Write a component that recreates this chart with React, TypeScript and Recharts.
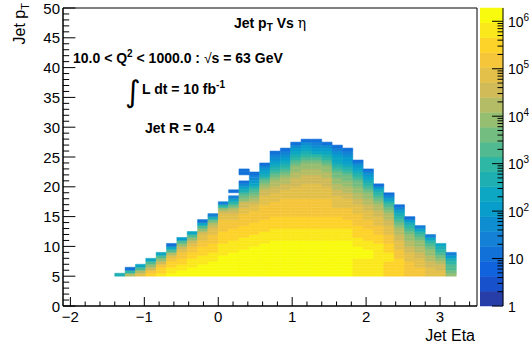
import React from "react";
import { ReferenceArea, Scatter, ScatterChart, XAxis, YAxis } from "recharts";

// binning of the jet histogram
const etaStart = -1.4;
const etaStep = 0.14;
const ptStart = 5;
const ptStep = 0.5;

// colour level of every cell, one string per eta bin, read from pT = 5 upwards
// 0-9 and a-j stand for the 20 levels of the palette, "." is an empty bin
const levelColumns = [
  "8",
  "d93",
  "fda7",
  "hgeca7",
  "ihhgeca7",
  "jiihhgfda73",
  "jjiihhggfeca6",
  "jjjiiihhggfeca7",
  "jjjjiiihhhggffeca73",
  "jjjjjiiihhhgggffedb84",
  "jjjjjjjiiiihhhhggggffec94",
  "jjjjjjjjiiiihhhhgggffedb974.3",
  "jjjjjjjjjiiiihhhhggggffeecba8753..33",
  "jjjjjjjjjjiiiihhhhggggffedcba976543",
  "jjjjjjjjjjjiiiihhhhgggggfffeedcba87653",
  "jjjjjjjjjjjjiiiihhhhgggggfffeeddcba9876543",
  "jjjjjjjjjjjjiiiihhhhggggggfffeeddcba9876543",
  "jjjjjjjjjjjjiiiihhhhggggggffffeeeddccba987653",
  "jjjjjjjjjjjjiiiihhhhggggggfffffeeeddccba987653",
  "jjjjjjjjjjjjiiiihhhhggggggfffffeeeddccba976543",
  "jjjjjjjjjjjjiiiihhhhggggggffffeeeddccba987653",
  "jjjjjjjjjjjjiiiihhhhgggffffeeddccbba98776543",
  "jjjjjjjjjjjjiiiihhhggggfffeeddccbba98766543",
  "iiiiiijjjjiiihhhhggggfffeeddccbba987653",
  "iiiiiijjjiiihhhhgggfffeeddccba987653",
  "iiiiiiiiiiihhhgggfffeeddcba9863",
  "hhhhhiiihhhgggfffeeddcba9753",
  "hhhhhhgggfffeeddcba98753",
  "gggggfffeeddccba9863",
  "gggfffeeddccba974",
  "fffeeddccba974",
  "ffeedcba987",
  "cbaa9864",
];

const xMajor = [-2, -1, 0, 1, 2, 3];
const xMajorLabels = ["\u22122", "\u22121", "0", "1", "2", "3"];
const yMajor = [0, 5, 10, 15, 20, 25, 30, 35, 40, 45, 50];
const zDecades = [0, 1, 2, 3, 4, 5, 6];

const xDomain = [-2.1, 3.5];
const yDomain = [0, 50];
const zLogMax = 6.28;
const nLevels = 20;

// ROOT kBird palette
const birdStops = [0, 0.125, 0.25, 0.375, 0.5, 0.625, 0.75, 0.875, 1];
const birdRed = [0.2082, 0.0592, 0.078, 0.0232, 0.1802, 0.5301, 0.8186, 0.9956, 0.9764];
const birdGreen = [0.1664, 0.3599, 0.5041, 0.6419, 0.7178, 0.7492, 0.7328, 0.7862, 0.9832];
const birdBlue = [0.5293, 0.8684, 0.8385, 0.7914, 0.6425, 0.4662, 0.3499, 0.1968, 0.0539];

function birdColor(f: number) {
  let k = 0;
  while (k < birdStops.length - 2 && f > birdStops[k + 1]) k++;
  const t = (f - birdStops[k]) / (birdStops[k + 1] - birdStops[k]);
  const ch = (a: number[]) => Math.round(255 * (a[k] + (a[k + 1] - a[k]) * t));
  return `rgb(${ch(birdRed)},${ch(birdGreen)},${ch(birdBlue)})`;
}

const levelColor = (i: number) => birdColor(Math.floor(((i + 0.99) * 255) / nLevels) / 254);

const cells: { x1: number; x2: number; y1: number; y2: number; level: number }[] = [];
levelColumns.forEach((col, c) => {
  col.split("").forEach((ch, r) => {
    if (ch === ".") return;
    cells.push({
      x1: etaStart + c * etaStep,
      x2: etaStart + (c + 1) * etaStep,
      y1: ptStart + r * ptStep,
      y2: ptStart + (r + 1) * ptStep,
      level: parseInt(ch, 36),
    });
  });
});

const xTicks: number[] = [];
for (let k = -10; k <= 17; k++) xTicks.push(Math.round(k * 2) / 10);
const yTicks: number[] = [];
for (let k = 0; k <= 50; k++) yTicks.push(k);
const zTicks: number[] = [];
zDecades.forEach((d) => {
  for (let m = 1; m <= 9; m++) {
    const v = d + Math.log10(m);
    if (v <= zLogMax) zTicks.push(v);
  }
});

const font = "'Liberation Sans', Arial, sans-serif";
const isMajor = (list: number[], v: number) => list.findIndex((m) => Math.abs(m - v) < 1e-6);

const XTick = (props: any) => {
  const { x, y, payload } = props;
  const idx = isMajor(xMajor, payload.value);
  return (
    <g>
      <line x1={x} x2={x} y1={y} y2={y - (idx >= 0 ? 9 : 4.5)} stroke="#000" />
      {idx >= 0 && (
        <text x={x} y={y + 16} textAnchor="middle" fontSize={15} fontFamily={font} fill="#000">
          {xMajorLabels[idx]}
        </text>
      )}
    </g>
  );
};

const YTick = (props: any) => {
  const { x, y, payload } = props;
  const idx = isMajor(yMajor, payload.value);
  return (
    <g>
      <line x1={x} x2={x + (idx >= 0 ? 12.4 : 6.2)} y1={y} y2={y} stroke="#000" />
      {idx >= 0 && (
        <text x={x - 3} y={y + 5.5} textAnchor="end" fontSize={15} fontFamily={font} fill="#000">
          {String(yMajor[idx])}
        </text>
      )}
    </g>
  );
};

const ZTick = (props: any) => {
  const { x, y, payload } = props;
  const idx = isMajor(zDecades, payload.value);
  const d = idx >= 0 ? zDecades[idx] : -1;
  return (
    <g>
      <line x1={x} x2={x - (idx >= 0 ? 11 : 5.5)} y1={y} y2={y} stroke="#000" />
      {d >= 0 && (
        <text x={x + 5} y={y + 5.5} fontSize={14} fontFamily={font} fill="#000">
          {d === 0 ? "1" : "10"}
          {d >= 2 && (
            <tspan dy={-6} fontSize={10}>
              {String(d)}
            </tspan>
          )}
        </text>
      )}
    </g>
  );
};

const noShape = () => <g />;

export default function App() {
  return (
    <div style={{ position: "absolute", left: 0, top: 0, width: 529, height: 345, background: "#fff", fontFamily: font }}>
      <div style={{ position: "absolute", left: 0, top: 0 }}>
        <ScatterChart width={529} height={345} margin={{ top: 8, right: 52, bottom: 0, left: 0 }}>
          <XAxis
            type="number"
            dataKey="x"
            domain={xDomain}
            allowDataOverflow
            ticks={xTicks}
            interval={0}
            height={39}
            tickSize={0}
            tickMargin={0}
            tickLine={false}
            axisLine={{ stroke: "#000" }}
            tick={XTick}
          />
          <YAxis
            type="number"
            dataKey="y"
            domain={yDomain}
            allowDataOverflow
            ticks={yTicks}
            interval={0}
            width={63}
            tickSize={0}
            tickMargin={0}
            tickLine={false}
            axisLine={{ stroke: "#000" }}
            tick={YTick}
          />
          {cells.map((c, i) => (
            <ReferenceArea
              key={i}
              x1={c.x1}
              x2={c.x2}
              y1={c.y1}
              y2={c.y2}
              fill={levelColor(c.level)}
              fillOpacity={1}
              stroke={levelColor(c.level)}
              strokeWidth={0.5}
              ifOverflow="visible"
            />
          ))}
          <ReferenceArea x1={xDomain[0]} x2={xDomain[1]} y1={yDomain[0]} y2={yDomain[1]} fill="none" fillOpacity={0} stroke="#000" strokeWidth={1} />
          <Scatter data={[{ x: xDomain[0], y: yDomain[0] }, { x: xDomain[1], y: yDomain[1] }]} shape={noShape} isAnimationActive={false} />
        </ScatterChart>
      </div>

      <div style={{ position: "absolute", left: 480, top: 0 }}>
        <ScatterChart width={49} height={345} margin={{ top: 8, right: 0, bottom: 39, left: 0 }}>
          <XAxis type="number" dataKey="x" domain={[0, 1]} hide />
          <YAxis
            type="number"
            dataKey="y"
            orientation="right"
            domain={[0, zLogMax]}
            allowDataOverflow
            ticks={zTicks}
            interval={0}
            width={26}
            tickSize={0}
            tickMargin={0}
            tickLine={false}
            axisLine={{ stroke: "#000" }}
            tick={ZTick}
          />
          {Array.from({ length: nLevels }, (_, i) => (
            <ReferenceArea
              key={i}
              x1={0}
              x2={1}
              y1={(i * zLogMax) / nLevels}
              y2={((i + 1) * zLogMax) / nLevels}
              fill={levelColor(i)}
              fillOpacity={1}
              stroke={levelColor(i)}
              strokeWidth={0.5}
            />
          ))}
          <Scatter data={[{ x: 0, y: 0 }, { x: 1, y: zLogMax }]} shape={noShape} isAnimationActive={false} />
        </ScatterChart>
      </div>

      <svg width={529} height={345} style={{ position: "absolute", left: 0, top: 0, pointerEvents: "none" }}>
        <g fontFamily={font} fontWeight="bold" fontSize={14} fill="#000">
          <text x={234} y={28}>
            Jet p<tspan dy={3} fontSize={10}>T</tspan>
            <tspan dy={-3}> Vs </tspan>
            <tspan fontWeight="normal" fontFamily="'DejaVu Serif', serif">η</tspan>
          </text>
          <text x={73} y={63}>
            10.0 &lt; Q<tspan dy={-6} fontSize={10}>2</tspan>
            <tspan dy={6}> &lt; 1000.0 :  </tspan>
            <tspan fontWeight="normal">√</tspan>
            <tspan>s = 63 GeV</tspan>
          </text>
          <text x={125} y={102} fontWeight="normal" fontSize={30} fontFamily="'DejaVu Sans', sans-serif">
            ∫
          </text>
          <text x={142} y={94}>
            L dt = 10 fb<tspan dy={-6} fontSize={10}>-1</tspan>
          </text>
          <text x={145} y={133}>Jet R = 0.4</text>
        </g>
        <g fontFamily={font} fontSize={16} fill="#000">
          <text x={475} y={341} textAnchor="end">
            Jet Eta
          </text>
          <text transform="translate(25,3) rotate(-90)" textAnchor="end">
            Jet p<tspan dy={4} fontSize={11}>T</tspan>
          </text>
        </g>
      </svg>
    </div>
  );
}
